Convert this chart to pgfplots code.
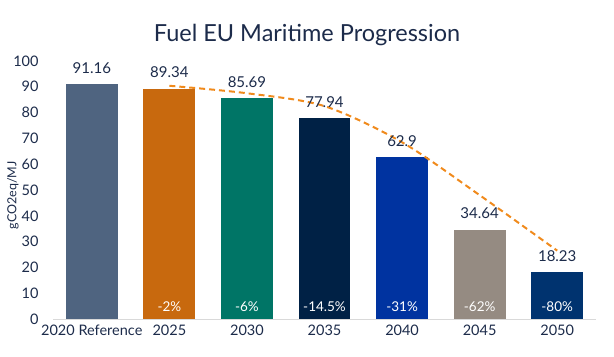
\documentclass[border=0pt]{standalone}
\usepackage{pgfplots}
\pgfplotsset{compat=1.18}
\usepackage{fontspec}
\setmainfont{Lato}
\definecolor{txt}{HTML}{1C2B4A}
\definecolor{cA}{HTML}{4F6480}
\definecolor{cB}{HTML}{C8690E}
\definecolor{cC}{HTML}{007566}
\definecolor{cD}{HTML}{002145}
\definecolor{cE}{HTML}{0033A0}
\definecolor{cF}{HTML}{958B82}
\definecolor{cG}{HTML}{00336F}
\definecolor{trend}{HTML}{F08A1C}
\begin{document}
\begin{tikzpicture}
\begin{axis}[
  name=ax,
  scale only axis,
  width=543bp, height=258bp,
  xmin=-0.5, xmax=6.5, ymin=0, ymax=100,
  ytick={0,10,...,100},
  xtick={0,...,6},
  xticklabels={2020 Reference,2025,2030,2035,2040,2045,2050},
  /pgf/number format/assume math mode=true,
  tick label style={font=\fontsize{14.5bp}{17bp}\selectfont, text=txt},
  yticklabel style={xshift=-11bp},
  xticklabel style={yshift=-2bp},
  major tick length=0pt,
  axis x line*=bottom,
  axis y line*=left,
  y axis line style={draw=none},
  x axis line style={draw=black!15, line width=0.8pt, -},
  ylabel={gCO2eq/MJ},
  ylabel style={font=\fontsize{12.5bp}{14bp}\selectfont, text=txt, at={(axis description cs:-0.0737,0.48)}, anchor=center},
  bar width=0.67,
  ybar, bar shift=0pt,
  nodes near coords={\pgfmathprintnumber[fixed,precision=2]{\pgfplotspointmeta}},
  nodes near coords style={font=\fontsize{15bp}{17bp}\selectfont, text=txt, yshift=7bp},
  clip=false,
]
\addplot[draw=none, fill=cA] coordinates {(0,91.16)};
\addplot[draw=none, fill=cB] coordinates {(1,89.34)};
\addplot[draw=none, fill=cC] coordinates {(2,85.69)};
\addplot[draw=none, fill=cD] coordinates {(3,77.94)};
\addplot[draw=none, fill=cE] coordinates {(4,62.9)};
\addplot[draw=none, fill=cF] coordinates {(5,34.64)};
\addplot[draw=none, fill=cG] coordinates {(6,18.23)};
\addplot[sharp plot, smooth, trend, line width=2pt, dash pattern=on 6pt off 4pt, nodes near coords={}, mark=none]
  coordinates {(1,90.4) (2,87.5) (3,82.5) (4,68.5) (5,48) (6,26.5)};
\foreach \x/\t in {1/-2\%,2/-6\%,3/-14.5\%,4/-31\%,5/-62\%,6/-80\%}{
  \edef\tmp{\noexpand\node[font=\noexpand\fontsize{13.5bp}{15bp}\noexpand\selectfont, text=white] at (axis cs:\x,4.8) {\t};}
  \tmp
}
\end{axis}
\path[use as bounding box] ([shift={(-53bp,-37bp)}]ax.south west) rectangle ([shift={(18bp,61bp)}]ax.north east);
\node[font=\fontsize{23.5bp}{26bp}\selectfont, text=txt] at ([yshift=-35bp]current bounding box.north) {Fuel EU Maritime Progression};
\end{tikzpicture}
\end{document}
